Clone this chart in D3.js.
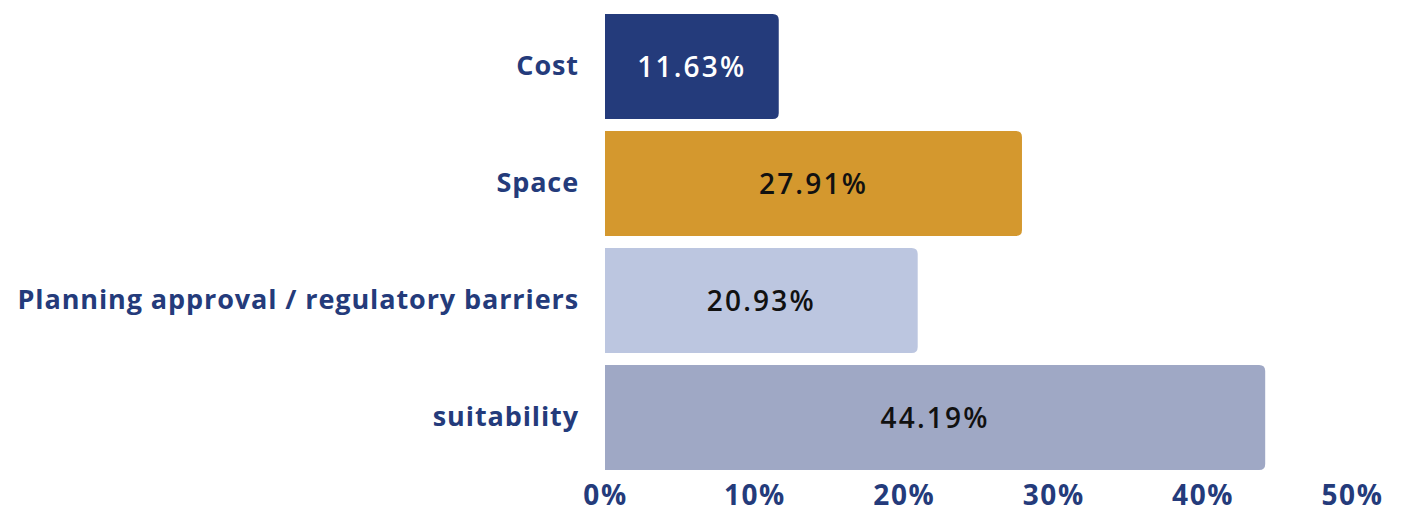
<!DOCTYPE html>
<html>
<head>
<meta charset="utf-8">
<script src="https://cdn.jsdelivr.net/npm/d3@7"></script>
<style>
  html, body { margin: 0; padding: 0; background: #fff; }
  svg text { font-family: "Open Sans", "Lato", sans-serif; }
</style>
</head>
<body>
<svg id="chart" width="1404" height="514"></svg>
<script>
const categories = ["Cost", "Space", "Planning approval / regulatory barriers", "suitability"];
const values = [11.63, 27.91, 20.93, 44.19];
const barColors = ["#243b7b", "#d4982e", "#bcc6e0", "#9fa8c5"];
const valueLabelColors = ["#ffffff", "#111111", "#111111", "#111111"];
const tickValues = [0, 10, 20, 30, 40, 50];

const navy = "#243b7b";
const svg = d3.select("#chart");

const x = d3.scaleLinear().domain([0, 50]).range([605, 1352]);
const y = d3.scaleBand().domain(categories).range([14, 470]).paddingInner(12 / 117).paddingOuter(0);

const r = 6;
function barPath(v, cat) {
  const x0 = x(0), x1 = x(v), y0 = y(cat), h = y.bandwidth();
  return `M${x0},${y0} H${x1 - r} Q${x1},${y0} ${x1},${y0 + r} V${y0 + h - r} Q${x1},${y0 + h} ${x1 - r},${y0 + h} H${x0} Z`;
}

const rows = categories.map((c, i) => ({ c, v: values[i], color: barColors[i], lc: valueLabelColors[i] }));

svg.append("g").selectAll("path").data(rows).join("path")
  .attr("d", d => barPath(d.v, d.c))
  .attr("fill", d => d.color);

// Value labels centred in each bar
svg.append("g").selectAll("text").data(rows).join("text")
  .attr("x", d => (x(0) + x(d.v)) / 2)
  .attr("y", d => y(d.c) + y.bandwidth() / 2)
  .attr("dy", "0.36em")
  .attr("text-anchor", "middle")
  .attr("font-size", 28)
  .attr("font-weight", 600)
  .attr("letter-spacing", 2.2)
  .attr("fill", d => d.lc)
  .text(d => d.v.toFixed(2) + "%");

// Category labels
const yAxis = d3.axisLeft(y).tickSize(0).tickPadding(26);
const gy = svg.append("g").attr("transform", `translate(${x(0)},0)`).call(yAxis);
gy.select(".domain").remove();
gy.selectAll("text")
  .attr("font-size", 27)
  .attr("font-weight", 700)
  .attr("letter-spacing", 0.9)
  .attr("fill", navy)
  .style("font-family", "'Open Sans', sans-serif");

// Percentage axis
const xAxis = d3.axisBottom(x).tickValues(tickValues).tickSize(0).tickPadding(15).tickFormat(d => d + "%");
const gx = svg.append("g").attr("transform", `translate(0,${y.range()[1]})`).call(xAxis);
gx.select(".domain").remove();
gx.selectAll("text")
  .attr("font-size", 28)
  .attr("font-weight", 700)
  .attr("letter-spacing", 1.6)
  .attr("fill", navy)
  .style("font-family", "'Open Sans', sans-serif");
</script>
</body>
</html>
